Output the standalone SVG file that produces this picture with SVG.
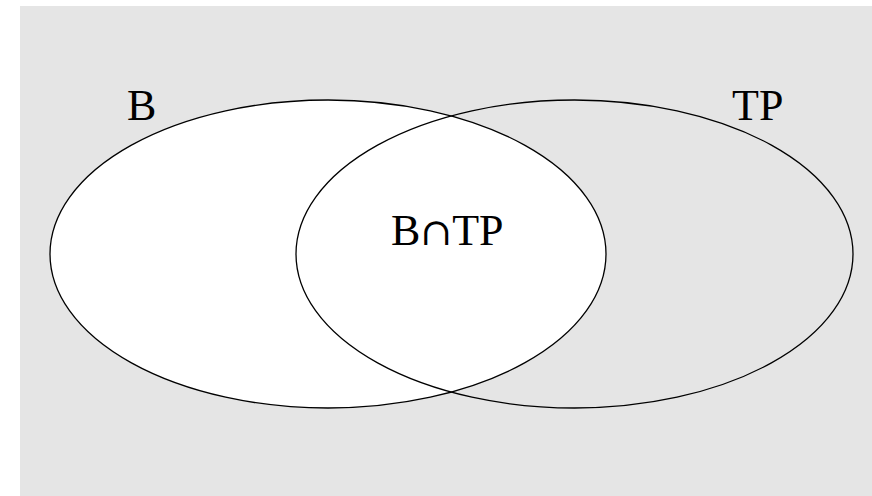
<svg xmlns="http://www.w3.org/2000/svg" width="872" height="496" viewBox="0 0 872 496">
<style>
.set{stroke:#000;stroke-width:1.3}
.lbl{font-family:"Liberation Serif","DejaVu Serif",serif;font-size:44px;fill:#000}
.cap{font-family:"DejaVu Serif",serif;font-size:38px}
</style>
<rect x="0" y="0" width="872" height="496" fill="#fff"/>
<rect x="20" y="6" width="852" height="490" fill="#e5e5e5"/>
<g id="setB">
<ellipse class="set" cx="328" cy="254" rx="278" ry="154" fill="#fff"/>
<text class="lbl" x="127" y="120">B</text>
</g>
<g id="setTP">
<ellipse class="set" cx="574.5" cy="254" rx="278.5" ry="154" fill="none"/>
<text class="lbl" x="732" y="120">TP</text>
</g>
<g id="intersection">
<text class="lbl" x="391" y="245">B<tspan class="cap">∩</tspan>TP</text>
</g>
<g id="connectors"></g>
</svg>
